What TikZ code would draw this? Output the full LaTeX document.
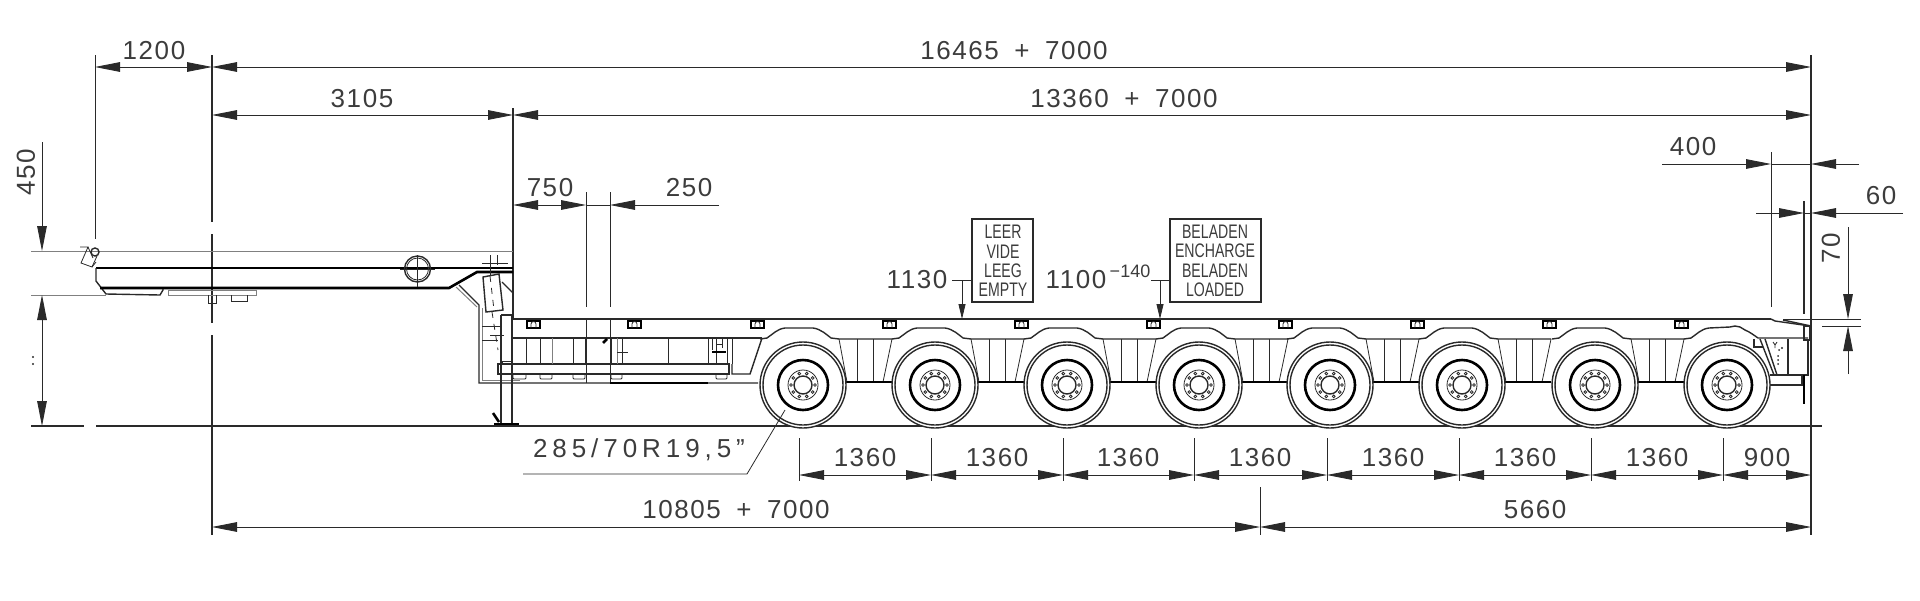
\documentclass[tikz,border=0pt]{standalone}
\usepackage{fontspec}
\setmainfont{Liberation Sans}
\newfontfamily\wide[LetterSpace=6]{Liberation Sans}
\newfontfamily\wider[LetterSpace=19]{Liberation Sans}
\usetikzlibrary{arrows.meta}
\definecolor{ink}{HTML}{2A2A2A}
\definecolor{inktext}{HTML}{3C3C3C}
\tikzset{
  body/.style={ink, line width=.7pt},
  heavy/.style={black, line width=1.3pt},
  thin/.style={ink, line width=.4pt},
  faint/.style={gray, line width=.5pt},
  dim/.style={ink, line width=.4pt, <->},
  dimto/.style={ink, line width=.4pt, ->},
  size/.style={text=inktext, font=\wide\fontsize{13}{15}\selectfont, inner sep=0pt},
  boxlbl/.style={text=inktext, font=\fontsize{9.8}{11}\selectfont, inner sep=0pt, xscale=.72, transform shape}
}
\begin{document}
\begin{tikzpicture}[x=.5pt, y=-.5pt, >={Triangle[length=12.5pt,width=4.8pt]}]
\useasboundingbox (0,0) rectangle (1920,600);

\draw[thin](95,55)--(95,239);
\draw[body](212,55)--(212,222) (212,234)--(212,323) (212,335)--(212,535);
\draw[body](1811,55)--(1811,535);
\draw[body](513,108)--(513,319);
\draw[faint](31,251)--(513,251);
\draw[faint](31,295)--(106,295);
\draw[body](31,426)--(84,426) (96,426)--(1822,426);

\draw[dim](95,67)--(212,67);
\draw[dim](212,67)--(1811,67);
\draw[dim](212,115)--(513,115);
\draw[dim](513,115)--(1811,115);
\node[size] (sa) at (154,51){1200};
\node[size] (sb) at (1014,51){16465\hspace{.6em}+\hspace{.6em}7000};
\node[size] (sc) at (362,99){3105};
\node[size] (sd) at (1124,99){13360\hspace{.6em}+\hspace{.6em}7000};

\draw[dim](513,205)--(586,205);
\draw[thin](586,205)--(610,205);
\draw[dimto](719,205)--(610,205);
\draw[thin](586,192)--(586,307) (586,319)--(586,383);
\draw[thin](610,192)--(610,307) (610,319)--(610,383);
\node[size] (se) at (550,188){750};
\node[size] (sf) at (689,188){250};

\draw[dimto](42,142)--(42,251);
\draw[dim](42,295)--(42,426);
\node[size, rotate=90] (sg) at (26,172){450};
\fill[ink](33,357) circle (1.2) (33,364) circle (1.2);

\draw[dimto](1662,164)--(1771,164);
\draw[thin](1771,164)--(1811,164);
\draw[dimto](1859,164)--(1811,164);
\draw[thin](1771,152)--(1771,307);
\node[size] (sh) at (1693,147){400};
\draw[dimto](1756,213)--(1804,213);
\draw[thin](1804,213)--(1811,213);
\draw[dimto](1903,213)--(1811,213);
\draw[body](1804,201)--(1804,314);
\node[size] (si) at (1881,196){60};
\draw[dimto](1848,227)--(1848,319);
\draw[dimto](1848,374)--(1848,326);
\draw[thin](1783,319)--(1861,319) (1822,326)--(1861,326);
\node[size, rotate=90] (sj) at (1831,248){70};

\foreach \xa/\xb in {799/931,931/1063,1063/1194,1194/1327,1327/1459,1459/1591,1591/1723,1723/1811}
  \draw[dim](\xa,475)--(\xb,475);
\foreach \xa in {799,931,1063,1194,1327,1459,1591,1723}
  \draw[thin](\xa,438)--(\xa,481);
\foreach \xa/\lbl in {865/1360,997/1360,1128/1360,1260/1360,1393/1360,1525/1360,1657/1360,1767/900}
  \node[size] (s\xa) at (\xa,458){\lbl};
\draw[thin](1260,487)--(1260,535);
\draw[dim](212,527)--(1260,527);
\draw[dim](1260,527)--(1811,527);
\node[size] (sk) at (736,510){10805\hspace{.6em}+\hspace{.6em}7000};
\node[size] (sl) at (1535,510){5660};
\node[size, font=\wider\fontsize{13}{15}\selectfont] (sm) at (639,450){285/70R19,5”};

\draw[body](972,219) rectangle (1033,302);
\draw[body](1170,219) rectangle (1261,302);
\foreach \yy/\lbl in {232/LEER,252/VIDE,271/LEEG,290/EMPTY}
  \node[boxlbl] (b\lbl) at (1003,\yy){\lbl};
\node[boxlbl] (ca) at (1215,232){BELADEN};
\node[boxlbl] (cb) at (1215,251){ENCHARGE};
\node[boxlbl] (cc) at (1215,271){BELADEN};
\node[boxlbl] (cd) at (1215,290){LOADED};
\draw[thin, -{Triangle[length=7.5pt,width=3.5pt]}](952,280)--(962,280)--(962,319);
\draw[thin](962,280)--(972,280);
\draw[thin, -{Triangle[length=7.5pt,width=3.5pt]}](1151,280)--(1160,280)--(1160,319);
\draw[thin](1160,280)--(1170,280);
\node[size] (sn) at (917,280){1130};
\node[size] (so) at (1076,280){1100};
\node[size, font=\fontsize{9}{10}\selectfont] (sp) at (1130,271){−140};

\draw[heavy](96,268)--(513,268);
\draw[body](96,268)--(96,281)--(106,294)--(160,295)--(163,290)--(163,288);
\draw[heavy](100,288)--(449,288)--(477,272)--(513,272);
\draw[body](459,285)--(479,305)--(479,383)--(758,383);
\draw[faint](456,287)--(477,307);
\draw[faint](482,308)--(482,380)--(520,380);
\draw[heavy](610,383)--(708,383);
\draw[faint](168,290)--(256,290)--(256,295)--(168,295)--cycle;
\draw[thin](208,295)--(208,303)--(216,303)--(216,295);
\draw[thin](231,295)--(231,301)--(247,301)--(247,295);
\draw[body](417.5,269) circle (13);
\draw[thin](417.5,269) circle (11);
\draw[thin](400,269)--(435,269) (417.5,255)--(417.5,287);
\draw[body](95,252) circle (4);
\draw[thin](80,247)--(88,247)--(81,263)--(92,267)--(97,256);
\draw[thin](88,247)--(93,258) (92,267)--(96,262);

\draw[body](483,277)--(499,274)--(503,310)--(486,312)--cycle;
\draw[thin, dashed](490,276)--(494,310);
\draw[thin, dashed](492,312)--(498,350);
\draw[thin](482,263)--(508,263) (490,255)--(490,275) (497,255)--(497,265);
\draw[thin](490,335)--(504,335);
\draw[body](502,282)--(513,293)--(513,316);
\draw[thin](482,326)--(500,326) (482,340)--(498,340);

\draw[body](501,315)--(501,423);
\draw[body](512,315)--(512,423);
\draw[body](501,315)--(513,315);
\draw[heavy](494,424)--(519,424);
\draw[heavy](493,413)--(499,422);
\draw[thin](502,364)--(502,361)--(511,361)--(511,364);

\draw[body](513,319)--(1771,319);
\draw[body](513,338)--(762,338);
\draw[body](498,364) rectangle (729,374);
\foreach \xa in {526,540,573,585,611,622,668,708,716,727,732}
  \draw[thin](\xa,338)--(\xa,364);
\draw[faint](552,338)--(552,364) (617,338)--(617,364);
\draw[thin](617,352)--(628,352);
\draw[heavy](603,343)--(607,339);
\draw[heavy](712,352)--(726,352);
\draw[thin](712,339)--(712,350) (716,344)--(722,344) (716,339)--(716,348) (722,339)--(722,348);
\foreach \xa/\xb in {513/526,540/552,573/585,611/622,716/727}
  \draw[thin](\xa,374)--(\xa,378)--(\xa+1,379)--(\xb-1,379)--(\xb,378)--(\xb,374);
\draw[body](732,364)--(732,374)--(750,374)--(762,338);

\foreach \xa in {527,628,751,883,1015,1147,1279,1411,1543,1675}{
  \draw[heavy, line width=.9pt](\xa,321) rectangle (\xa+13,328);
  \draw[thin](\xa+4,328)--(\xa+4,324) arc (180:360:2.5)--(\xa+9,328);
}

\foreach \cx in {803,935,1067,1199,1330,1462,1595}{
  \draw[body](\cx-43,339)--(\cx-36,338) .. controls (\cx-30,334) and (\cx-26,329) .. (\cx-18,328)--(\cx+10,328) .. controls (\cx+18,329) and (\cx+24,335) .. (\cx+28,338)--(\cx+36,339)--(\cx+89,339);
  \draw[thin](\cx+36,339)--(\cx+44,382);
  \draw[thin](\cx+89,339)--(\cx+80,382);
  \draw[thin](\cx+54,339)--(\cx+54,382) (\cx+70,339)--(\cx+70,382);
  \draw[heavy](\cx+43,382)--(\cx+89,382);
}

\draw[body](1727-43,339)--(1727-36,338) .. controls (1697,334) and (1701,329) .. (1709,328)--(1730,327)--(1735,326)--(1740,327)--(1745,330) .. controls (1750,332) and (1755,336) .. (1758,338)--(1808,338);
\draw[body](1771,319)--(1775,321);
\draw[body](1783,320)--(1811,326);
\draw[body](1775,321)--(1803,325);
\draw[body](1804,326) rectangle (1810,340);
\draw[body](1808,340)--(1808,375)--(1770,375);
\draw[body](1754,339)--(1754,347)--(1763,347);
\draw[body](1760,339)--(1774,375) (1765,339)--(1777,375);
\draw[body](1788,339)--(1788,375);
\draw[body](1770,385)--(1802,385)--(1802,375);
\draw[heavy](1804,375)--(1804,404);
\fill[ink](1782,348) circle (1.2) (1779,350) circle (1) (1778,356) circle (1) (1778,360) circle (1) (1778,364) circle (1);
\draw[thin](1773,342)--(1775,345)--(1777,342) (1775,345)--(1775,348);

\foreach \cx in {803,935,1067,1199,1330,1462,1595,1727}{
  \begin{scope}[shift={(\cx,385)}]
    \fill[white](0,0) circle (43);
    \draw[body](0,0) circle (43);
    \draw[body](0,0) circle (40);
    \draw[heavy](0,0) circle (25);
    \draw[thin](0,0) circle (15);
    \draw[body](0,0) circle (9);
    \foreach \ang in {0,36,...,324}
      \draw[thin](\ang:12) circle (1.4);
  \end{scope}
}
\draw[thin](523,474)--(747,474)--(785,410);

\end{tikzpicture}
\end{document}
